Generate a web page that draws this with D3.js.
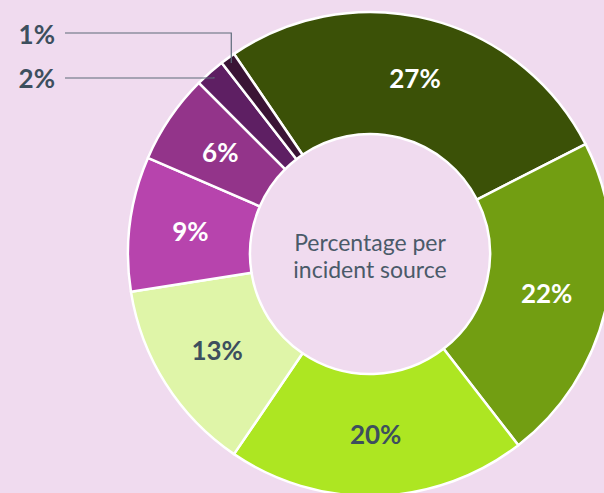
<!DOCTYPE html>
<html>
<head>
<meta charset="utf-8">
<script src="https://cdn.jsdelivr.net/npm/d3@7"></script>
<style>
	html, body { margin: 0; padding: 0; background: #f0dbef; }
	svg { display: block; }
	.sliceLabel { font-family: Lato, "Open Sans", sans-serif; font-weight: 700; font-size: 26px; }
	.centerText { font-family: Lato, "Open Sans", sans-serif; font-size: 23px; fill: #4a5a69; }
</style>
</head>
<body>
<svg id="chart"></svg>
<script>
var width = 604, height = 493;

// slices, clockwise from the top one
var sources = ["s1", "s2", "s3", "s4", "s5", "s6", "s7", "s8"];
var percents = [27, 22, 20, 13, 9, 6, 2, 1];
var colors = ["#3b5107", "#729e12", "#ade622", "#dff5a8", "#b744ad", "#93348a", "#5e1f63", "#3a1435"];
var labelColors = ["#ffffff", "#ffffff", "#3d4f5e", "#3d4f5e", "#ffffff", "#ffffff", "#3d4f5e", "#3d4f5e"];
var centerLines = ["Percentage per", "incident source"];

var cx = 370, cy = 254,
	innerR = 120, outerR = 242;

var svg = d3.select("#chart")
	.attr("width", width)
	.attr("height", height);

var data = sources.map(function(s, i) { return {name: s, value: percents[i], i: i}; });

var pie = d3.pie()
	.sort(null)
	.value(function(d) { return d.value; })
	.startAngle(-34.2 * Math.PI / 180)
	.endAngle((360 - 34.2) * Math.PI / 180);

var arc = d3.arc()
	.innerRadius(innerR)
	.outerRadius(outerR);

var arcs = pie(data);

var g = svg.append("g")
	.attr("transform", "translate(" + cx + "," + cy + ")");

g.selectAll("path.slice")
	.data(arcs)
	.enter().append("path")
	.attr("class", "slice")
	.attr("d", arc)
	.attr("fill", function(d) { return colors[d.data.i]; })
	.attr("stroke", "#ffffff")
	.attr("stroke-width", 2.5)
	.attr("stroke-linejoin", "round");

// labels inside the big slices
var big = arcs.filter(function(d) { return d.data.value >= 5; });
g.selectAll("text.sliceLabel")
	.data(big)
	.enter().append("text")
	.attr("class", "sliceLabel")
	.attr("x", function(d) { return arc.centroid(d)[0]; })
	.attr("y", function(d) { return arc.centroid(d)[1]; })
	.attr("dy", "0.36em")
	.attr("text-anchor", "middle")
	.attr("fill", function(d) { return labelColors[d.data.i]; })
	.text(function(d) { return d.data.value + "%"; });

// small slices get labels outside, on the left, with leader lines
var small = arcs.filter(function(d) { return d.data.value < 5; });
var labelY = {1: 35, 2: 79};
var labelX = 55, lineStart = 65, anchorR = 236;

small.forEach(function(d) {
	var mid = (d.startAngle + d.endAngle) / 2;
	var px = cx + anchorR * Math.sin(mid),
		py = cy - anchorR * Math.cos(mid);
	var ly = labelY[d.data.value];
	var lineY = d.data.value == 1 ? 33 : 78;
	var pts = [[lineStart, lineY], [px, lineY], [px, py]];
	svg.append("path")
		.attr("d", d3.line()(pts))
		.attr("fill", "none")
		.attr("stroke", "#5c6b79")
		.attr("stroke-width", 1.2);
	svg.append("text")
		.attr("class", "sliceLabel")
		.attr("x", labelX)
		.attr("y", ly)
		.attr("dy", "0.36em")
		.attr("text-anchor", "end")
		.attr("fill", labelColors[d.data.i])
		.text(d.data.value + "%");
});

// text in the hole
g.selectAll("text.centerText")
	.data(centerLines)
	.enter().append("text")
	.attr("class", "centerText")
	.attr("x", 0)
	.attr("y", function(d, i) { return -11 + i * 27; })
	.attr("dy", "0.36em")
	.attr("text-anchor", "middle")
	.text(function(d) { return d; });
</script>
</body>
</html>
